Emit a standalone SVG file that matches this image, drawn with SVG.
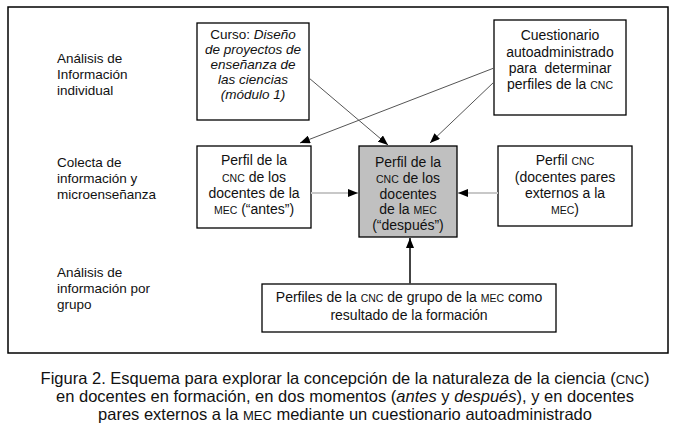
<svg xmlns="http://www.w3.org/2000/svg" width="681" height="430" viewBox="0 0 681 430">
<style>
text{font-family:"Liberation Sans",Arial,sans-serif;fill:#111;}
.lbl{font-size:13.5px;}
.bx{font-size:14px;text-anchor:middle;}
.it{font-size:13.5px;text-anchor:middle;font-style:italic;}
.cap{font-size:16.5px;text-anchor:middle;}
.sc{font-size:10.5px;}
.csc{font-size:13px;}
.box{fill:#fff;stroke:#000;stroke-width:1.3;}
.gbox{fill:#c0c0c0;stroke:#000;stroke-width:1.3;}
.dl{stroke:#555;stroke-width:1;fill:none;}
.hl{stroke:#c8c8c8;stroke-width:2;fill:none;}
.vl{stroke:#444;stroke-width:2;fill:none;}
</style>
<defs>
<marker id="ah" viewBox="0 0 10 8" refX="10" refY="4" markerWidth="10" markerHeight="8" orient="auto" markerUnits="userSpaceOnUse"><path d="M0,0 L10,4 L0,8 z" fill="#000"/></marker>
</defs>
<rect x="0" y="0" width="681" height="430" fill="#fff"/>
<rect x="8" y="7" width="660" height="346" fill="none" stroke="#000" stroke-width="1.5"/>
<g id="labels">
<text class="lbl" x="57" y="63">Análisis de</text>
<text class="lbl" x="57" y="79">Información</text>
<text class="lbl" x="57" y="95">individual</text>
<text class="lbl" x="57" y="167">Colecta de</text>
<text class="lbl" x="57" y="183">información y</text>
<text class="lbl" x="57" y="199">microenseñanza</text>
<text class="lbl" x="57" y="277">Análisis de</text>
<text class="lbl" x="57" y="293">información por</text>
<text class="lbl" x="57" y="309">grupo</text>
</g>
<g id="curso">
<rect class="box" x="197" y="23" width="112" height="97"/>
<text class="it" x="253" y="39"><tspan font-style="normal">Curso:</tspan> Diseño</text>
<text class="it" x="253" y="54">de proyectos de</text>
<text class="it" x="253" y="69">enseñanza de</text>
<text class="it" x="253" y="84">las ciencias</text>
<text class="it" x="253" y="99">(módulo 1)</text>
</g>
<g id="cuestionario">
<rect class="box" x="494" y="20" width="132" height="95"/>
<text class="bx" x="560" y="40">Cuestionario</text>
<text class="bx" x="560" y="57">autoadministrado</text>
<text class="bx" x="560" y="73" xml:space="preserve">para  determinar</text>
<text class="bx" x="560" y="89">perfiles de la <tspan class="sc">CNC</tspan></text>
</g>
<g id="antes">
<rect class="box" x="197" y="146" width="114" height="82"/>
<text class="bx" x="254" y="165">Perfil de la</text>
<text class="bx" x="254" y="182"><tspan class="sc">CNC</tspan> de los</text>
<text class="bx" x="254" y="198">docentes de la</text>
<text class="bx" x="254" y="214"><tspan class="sc">MEC</tspan> (“antes”)</text>
</g>
<g id="despues">
<rect class="gbox" x="359" y="146" width="98" height="91"/>
<text class="bx" x="408" y="167">Perfil de la</text>
<text class="bx" x="408" y="183"><tspan class="sc">CNC</tspan> de los</text>
<text class="bx" x="408" y="199">docentes</text>
<text class="bx" x="408" y="214">de la <tspan class="sc">MEC</tspan></text>
<text class="bx" x="408" y="230">(“después”)</text>
</g>
<g id="externos">
<rect class="box" x="498" y="146" width="134" height="80"/>
<text class="bx" x="565" y="165">Perfil <tspan class="sc">CNC</tspan></text>
<text class="bx" x="565" y="182">(docentes pares</text>
<text class="bx" x="565" y="198">externos a la</text>
<text class="bx" x="565" y="214"><tspan class="sc">MEC</tspan>)</text>
</g>
<g id="grupo">
<rect class="box" x="262" y="284" width="294" height="48"/>
<text class="bx" x="409" y="302">Perfiles de la <tspan class="sc">CNC</tspan> de grupo de la <tspan class="sc">MEC</tspan> como</text>
<text class="bx" x="409" y="320">resultado de la formación</text>
</g>
<g id="connectors">
<line class="dl" x1="309" y1="78" x2="388" y2="145" marker-end="url(#ah)"/>
<line class="dl" x1="494" y1="68" x2="300" y2="143" marker-end="url(#ah)"/>
<line class="dl" x1="494" y1="82" x2="430" y2="143" marker-end="url(#ah)"/>
<line class="hl" x1="311" y1="193" x2="358" y2="193" marker-end="url(#ah)"/>
<line class="hl" x1="498" y1="193" x2="458" y2="193" marker-end="url(#ah)"/>
<line class="vl" x1="410" y1="284" x2="410" y2="238" marker-end="url(#ah)"/>
</g>
<g id="caption">
<text class="cap" x="345" y="384">Figura 2. Esquema para explorar la concepción de la naturaleza de la ciencia (<tspan class="csc">CNC</tspan>)</text>
<text class="cap" x="345" y="402">en docentes en formación, en dos momentos (<tspan font-style="italic">antes</tspan> y <tspan font-style="italic">después</tspan>), y en docentes</text>
<text class="cap" x="345" y="420">pares externos a la <tspan class="csc">MEC</tspan> mediante un cuestionario autoadministrado</text>
</g>
</svg>
